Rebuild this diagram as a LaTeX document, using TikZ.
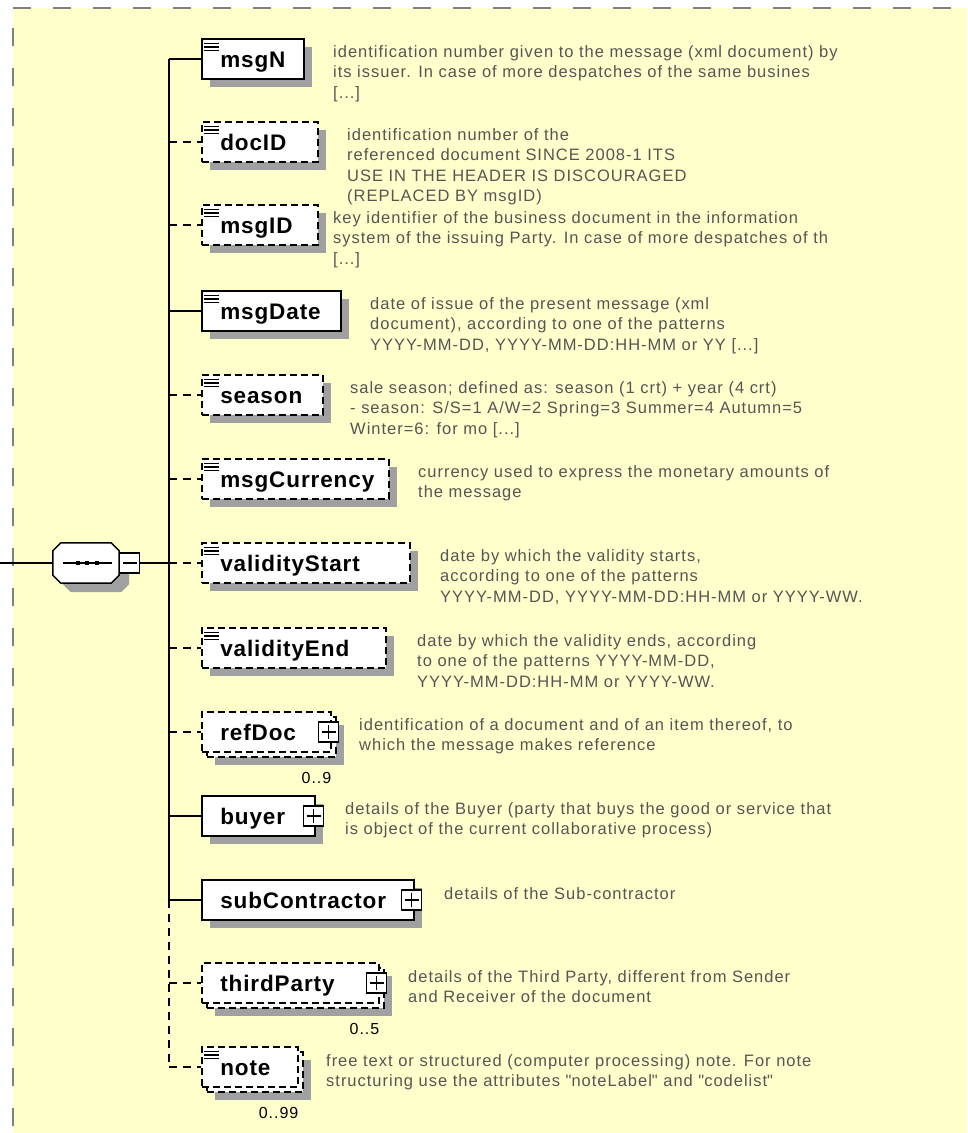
\documentclass[tikz,border=0pt]{standalone}
\usepackage{fontspec}
\setmainfont{Liberation Sans}
\newfontfamily\elemfamily{Liberation Sans}[LetterSpace=4]
\newfontfamily\descfamily{Liberation Sans}[LetterSpace=6]
\usetikzlibrary{shadows, positioning}

\definecolor{paper}{RGB}{255,255,204}
\definecolor{frame}{RGB}{128,128,128}
\definecolor{shade}{RGB}{160,160,160}
\definecolor{doctext}{RGB}{85,85,85}
\newcommand{\elemfont}{\elemfamily\bfseries\fontsize{22.5}{27}\selectfont}
\newcommand{\descfont}{\descfamily\fontsize{16.5}{20.5}\selectfont}

\begin{document}
\begin{tikzpicture}[
		x=1pt, y=-1pt,
		border/.style={frame, line width=2pt, dash pattern=on 18pt off 22pt},
		link/.style={line width=1.5pt},
		optlink/.style={link, dash pattern=on 8pt off 6pt},
		elem/.style={rectangle, draw=black, fill=white, line width=1.5pt, anchor=west, minimum height=40pt,
			inner xsep=18.5pt, inner ysep=0pt, text height=19pt, text depth=3pt, align=left, font=\elemfont},
		opt/.style={dash pattern=on 7pt off 4pt},
		single/.style={elem, general shadow={fill=shade, shadow xshift=8pt, shadow yshift=-8pt}},
		multi/.style={elem, opt, general shadow={fill=shade, shadow xshift=13pt, shadow yshift=-13pt},
			general shadow={fill=white, draw=black, line width=1.5pt, opt, shadow xshift=5pt, shadow yshift=-5pt}},
		leaf/.style={path picture={\foreach \k in {4.5,8,11.5}
			\draw[line width=1.4pt, solid] ([shift={(2.5pt,-\k pt)}]path picture bounding box.north west) -- ++(15,0);}},
		pm/.style={rectangle, draw=black, fill=white, line width=1.2pt, solid, minimum size=20pt, inner sep=0pt},
		expand/.style={pm, path picture={\draw[line width=1.2pt]
			([xshift=3pt]path picture bounding box.west) -- ([xshift=-3pt]path picture bounding box.east)
			([yshift=-3pt]path picture bounding box.north) -- ([yshift=3pt]path picture bounding box.south);}},
		collapse/.style={pm, path picture={\draw[line width=1.2pt]
			([xshift=3pt]path picture bounding box.west) -- ([xshift=-3pt]path picture bounding box.east);}},
		seqbox/.style={rectangle, minimum width=66pt, minimum height=40pt, inner sep=0pt},
		seqshade/.style={fill=shade, transform canvas={shift={(10pt,-9pt)}}},
		seqface/.style={fill=white, draw=black, line width=1.5pt},
		desc/.style={anchor=north west, align=left, inner sep=0pt, text=doctext, font=\descfont},
		count/.style={anchor=north east, inner sep=0pt, font=\descfamily\fontsize{16}{19}\selectfont},
		]

	\useasboundingbox (0,0) rectangle (967,1133);
	\fill[paper] (13,8) rectangle (967,1133);
	\draw[border] (13,8) -- (967,8);
	\draw[border, dash phase=20pt] (13,8) -- (13,1133);

	% sequence compositor
	\coordinate (in) at (0,563);
	\coordinate (trunk) at (169,563);
	\node (seq) [seqbox] at (86,563) {};
	\draw[link] (in) -- (seq);
	\foreach \st in {seqshade, seqface}
		\path[\st] ([xshift=8pt]seq.north west) -- ([xshift=-8pt]seq.north east) -- ([yshift=-8pt]seq.north east)
			-- ([yshift=8pt]seq.south east) -- ([xshift=-8pt]seq.south east) -- ([xshift=8pt]seq.south west)
			-- ([yshift=8pt]seq.south west) -- ([yshift=-8pt]seq.north west) -- cycle;
	\node (seqC) [collapse, right=0pt of seq] {};
	\draw[link] (seqC) -- (trunk);
	\draw[link] ([xshift=-23pt]seq.center) -- ([xshift=26pt]seq.center);
	\foreach \d in {-8,1,11}
		\fill ([xshift=\d pt]seq.center) +(-2.2,-2.2) rectangle +(2.2,2.2);

	% child elements
	\node (msgN) [single, leaf, text width=65pt] at (201,59) {msgN};
	\node (docID) [single, leaf, opt, text width=79pt] at (201,142) {docID};
	\node (msgID) [single, leaf, opt, text width=79pt] at (201,225) {msgID};
	\node (msgDate) [single, leaf, text width=102pt] at (201,311) {msgDate};
	\node (season) [single, leaf, opt, text width=84pt] at (201,395) {season};
	\node (msgCurrency) [single, leaf, opt, text width=150pt] at (201,479) {msgCurrency};
	\node (validityStart) [single, leaf, opt, text width=171pt] at (201,563) {validityStart};
	\node (validityEnd) [single, leaf, opt, text width=147pt] at (201,648) {validityEnd};
	\node (refDoc) [multi, text width=92pt] at (201,732) {refDoc};
	\node (buyer) [single, text width=76pt] at (201,816) {buyer};
	\node (subContractor) [single, text width=175pt] at (201,900) {subContractor};
	\node (thirdParty) [multi, text width=140pt] at (201,983) {thirdParty};
	\node (note) [multi, leaf, text width=59pt] at (201,1067) {note};

	\node (refDocX) [expand] at ([xshift=-3pt]refDoc.east) {};
	\node (buyerX) [expand] at ([xshift=-2pt]buyer.east) {};
	\node (subContractorX) [expand] at ([xshift=-3pt]subContractor.east) {};
	\node (thirdPartyX) [expand] at ([xshift=-3pt]thirdParty.east) {};

	\node (refDocN) [count] at ([yshift=-19pt]refDoc.south east) {0..9};
	\node (thirdPartyN) [count] at ([yshift=-19pt]thirdParty.south east) {0..5};
	\node (noteN) [count] at ([yshift=-19pt]note.south east) {0..99};

	% connectors
	\draw[link] (trunk |- msgN.west) -- (trunk |- subContractor.west);
	\draw[optlink] (trunk |- subContractor.west) -- (trunk |- note.west);
	\foreach \e in {msgN, msgDate, buyer, subContractor}
		\draw[link] (trunk |- \e.west) -- (\e.west);
	\foreach \e in {docID, msgID, season, msgCurrency, validityStart, validityEnd, refDoc, thirdParty, note}
		\draw[optlink] (trunk |- \e.west) -- (\e.west);

	% annotations
	\node (msgNd) [desc] at (333,45) {identification number given to the message (xml document) by\\its issuer. In case of more despatches of the same busines\\{[...]}};
	\node (docIDd) [desc] at (347,128) {identification number of the\\referenced document SINCE 2008-1 ITS\\USE IN THE HEADER IS DISCOURAGED\\(REPLACED BY msgID)};
	\node (msgIDd) [desc] at (333,211) {key identifier of the business document in the information\\system of the issuing Party. In case of more despatches of th\\{[...]}};
	\node (msgDated) [desc] at (370,297) {date of issue of the present message (xml\\document), according to one of the patterns\\YYYY-MM-DD, YYYY-MM-DD:HH-MM or YY [...]};
	\node (seasond) [desc] at (350,381) {sale season; defined as: season (1 crt) + year (4 crt)\\- season: S/S=1 A/W=2 Spring=3 Summer=4 Autumn=5\\Winter=6: for mo [...]};
	\node (msgCurrencyd) [desc] at (418,465) {currency used to express the monetary amounts of\\the message};
	\node (validityStartd) [desc] at (440,549) {date by which the validity starts,\\according to one of the patterns\\YYYY-MM-DD, YYYY-MM-DD:HH-MM or YYYY-WW.};
	\node (validityEndd) [desc] at (417,634) {date by which the validity ends, according\\to one of the patterns YYYY-MM-DD,\\YYYY-MM-DD:HH-MM or YYYY-WW.};
	\node (refDocd) [desc] at (359,718) {identification of a document and of an item thereof, to\\which the message makes reference};
	\node (buyerd) [desc] at (345,802) {details of the Buyer (party that buys the good or service that\\is object of the current collaborative process)};
	\node (subContractord) [desc] at (444,887) {details of the Sub-contractor};
	\node (thirdPartyd) [desc] at (408,970) {details of the Third Party, different from Sender\\and Receiver of the document};
	\node (noted) [desc] at (326,1054) {free text or structured (computer processing) note. For note\\structuring use the attributes \textquotedbl noteLabel\textquotedbl{} and \textquotedbl codelist\textquotedbl};
\end{tikzpicture}
\end{document}
